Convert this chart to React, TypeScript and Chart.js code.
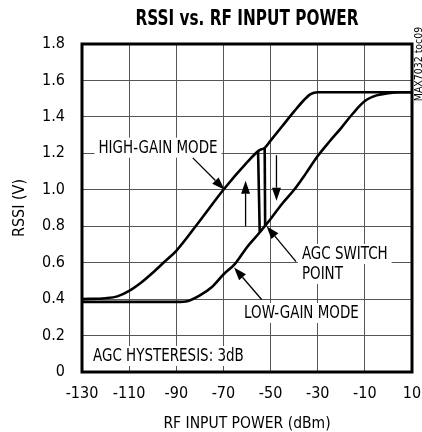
import React, { useEffect, useRef } from "react";
import { Chart, registerables } from "chart.js";

Chart.register(...registerables);

const FONT = "'Liberation Sans Narrow', 'DejaVu Sans Condensed', 'Arial Narrow', sans-serif";

const titleText = "RSSI vs. RF INPUT POWER";
const xAxisTitle = "RF INPUT POWER (dBm)";
const yAxisTitle = "RSSI (V)";
const sideCode = "MAX7032 toc09";

const xTickLabels = ["-130", "-110", "-90", "-70", "-50", "-30", "-10", "10"];
const yTickLabels = ["0", "0.2", "0.4", "0.6", "0.8", "1.0", "1.2", "1.4", "1.6", "1.8"];

const highGainX = [-130, -120, -115, -110, -105, -100, -95, -90, -80, -70, -60, -55, -52.5, -50, -45, -40, -36, -33, -30, -20, -10, 0, 10];
const highGainY = [0.4, 0.405, 0.415, 0.445, 0.49, 0.545, 0.605, 0.665, 0.83, 1.0, 1.15, 1.215, 1.23, 1.27, 1.35, 1.43, 1.49, 1.525, 1.535, 1.535, 1.535, 1.535, 1.535];

const lowGainX = [-130, -110, -90, -85, -80, -75, -70, -65, -60, -55, -52.5, -50, -45, -40, -35, -30, -25, -20, -15, -10, -5, 0, 5, 10];
const lowGainY = [0.385, 0.385, 0.385, 0.39, 0.42, 0.465, 0.535, 0.595, 0.685, 0.76, 0.8, 0.84, 0.925, 1.0, 1.09, 1.185, 1.265, 1.34, 1.42, 1.487, 1.518, 1.53, 1.535, 1.535];

const switchUpX = [-54.6, -55.3];
const switchUpY = [0.77, 1.21];
const switchDownX = [-52.5, -52.3];
const switchDownY = [1.23, 0.8];

const labelTexts = ["HIGH-GAIN MODE", "AGC SWITCH", "POINT", "LOW-GAIN MODE", "AGC HYSTERESIS: 3dB"];
const labelX = [-97.75, -36.7, -36.7, -36.9, -125.3];
const labelY = [1.231, 0.648, 0.538, 0.324, 0.088];
const labelAlign = ["center", "left", "left", "center", "left"];

const arrowFromX = [-83, -39.2, -53.8, -60.6, -47.5];
const arrowFromY = [1.175, 0.606, 0.398, 0.8, 1.19];
const arrowToX = [-69.5, -51.7, -65.5, -60.6, -47.5];
const arrowToY = [1.0, 0.8, 0.574, 1.05, 0.94];

const pts = (xs: number[], ys: number[]) => xs.map((x, i) => ({ x, y: ys[i] }));

function drawArrow(ctx: CanvasRenderingContext2D, x1: number, y1: number, x2: number, y2: number) {
  const ang = Math.atan2(y2 - y1, x2 - x1);
  const hl = 13;
  const hw = 4.5;
  const bx = x2 - hl * Math.cos(ang);
  const by = y2 - hl * Math.sin(ang);
  ctx.beginPath();
  ctx.moveTo(x1, y1);
  ctx.lineTo(bx, by);
  ctx.lineWidth = 1.3;
  ctx.strokeStyle = "#000";
  ctx.stroke();
  ctx.beginPath();
  ctx.moveTo(x2, y2);
  ctx.lineTo(bx + hw * Math.sin(ang), by - hw * Math.cos(ang));
  ctx.lineTo(bx - hw * Math.sin(ang), by + hw * Math.cos(ang));
  ctx.closePath();
  ctx.fillStyle = "#000";
  ctx.fill();
}

const LABEL_SX = 0.88;

const decorPlugin = {
  id: "decor",
  beforeDatasetsDraw(chart: any) {
    const ctx = chart.ctx as CanvasRenderingContext2D;
    const xs = chart.scales.x;
    const ys = chart.scales.y;
    ctx.save();
    ctx.font = `17px ${FONT}`;
    ctx.textBaseline = "middle";
    ctx.textAlign = "left";
    labelTexts.forEach((t, i) => {
      const px = xs.getPixelForValue(labelX[i]);
      const py = ys.getPixelForValue(labelY[i]);
      const w = ctx.measureText(t).width * LABEL_SX;
      const left = labelAlign[i] === "center" ? px - w / 2 : px;
      ctx.fillStyle = "#fff";
      ctx.fillRect(left - 4, py - 10, w + 8, 20);
      ctx.fillStyle = "#000";
      ctx.save();
      ctx.translate(left, py + 1);
      ctx.scale(LABEL_SX, 1);
      ctx.fillText(t, 0, 0);
      ctx.restore();
    });
    ctx.restore();
  },
  afterDatasetsDraw(chart: any) {
    const ctx = chart.ctx as CanvasRenderingContext2D;
    const xs = chart.scales.x;
    const ys = chart.scales.y;
    ctx.save();
    arrowFromX.forEach((_, i) => {
      drawArrow(
        ctx,
        xs.getPixelForValue(arrowFromX[i]),
        ys.getPixelForValue(arrowFromY[i]),
        xs.getPixelForValue(arrowToX[i]),
        ys.getPixelForValue(arrowToY[i])
      );
    });
    const a = chart.chartArea;
    ctx.lineWidth = 3;
    ctx.strokeStyle = "#000";
    ctx.strokeRect(a.left, a.top, a.right - a.left, a.bottom - a.top);
    ctx.restore();
  },
  afterDraw(chart: any) {
    const ctx = chart.ctx as CanvasRenderingContext2D;
    const a = chart.chartArea;
    ctx.save();
    ctx.fillStyle = "#000";
    ctx.font = `bold 21px ${FONT}`;
    ctx.textAlign = "center";
    ctx.textBaseline = "alphabetic";
    ctx.save();
    ctx.translate((a.left + a.right) / 2, 25);
    ctx.scale(0.81, 1);
    ctx.fillText(titleText, 0, 0);
    ctx.restore();
    ctx.font = `11px ${FONT}`;
    ctx.translate(419, a.top + 20);
    ctx.rotate(-Math.PI / 2);
    ctx.scale(0.95, 1);
    ctx.textAlign = "center";
    ctx.textBaseline = "middle";
    ctx.fillText(sideCode, 0, 0);
    ctx.restore();
  },
};

export default function App() {
  const ref = useRef<HTMLCanvasElement>(null);
  useEffect(() => {
    if (!ref.current) return;
    const lineDs = (data: any[], mono: boolean) => ({
      data,
      borderColor: "#000",
      backgroundColor: "#000",
      borderWidth: 2.6,
      pointRadius: 0,
      showLine: true,
      fill: false,
      cubicInterpolationMode: mono ? "monotone" : "default",
      tension: 0,
    });
    const chart = new Chart(ref.current, {
      type: "line",
      data: {
        datasets: [
          lineDs(pts(highGainX, highGainY), true),
          lineDs(pts(lowGainX, lowGainY), true),
          lineDs(pts(switchUpX, switchUpY), false),
          lineDs(pts(switchDownX, switchDownY), false),
        ] as any,
      },
      options: {
        animation: false,
        responsive: false,
        events: [],
        layout: { padding: { top: 44, right: 10, left: 0, bottom: 0 } },
        plugins: { legend: { display: false }, tooltip: { enabled: false }, title: { display: false } },
        scales: {
          x: {
            type: "linear",
            min: -130,
            max: 10,
            afterFit: (s: any) => {
              s.height = 60;
              s.paddingLeft = 0;
              s.paddingRight = 0;
            },
            afterBuildTicks: (s: any) => {
              s.ticks = xTickLabels.map((t) => ({ value: Number(t) }));
            },
            ticks: {
              padding: 12,
              color: "#000",
              font: { family: FONT, size: 16 },
              maxRotation: 0,
              autoSkip: false,
              callback: (v: any, i: number) => xTickLabels[i],
            },
            grid: { color: "#555", lineWidth: 1, drawTicks: false },
            border: { display: false },
            title: {
              display: true,
              text: xAxisTitle,
              color: "#000",
              font: { family: FONT, size: 15.5 },
              padding: { top: 0, bottom: -1 },
            },
          },
          y: {
            type: "linear",
            min: 0,
            max: 1.8,
            afterFit: (s: any) => {
              s.width = 82;
              s.paddingTop = 0;
              s.paddingBottom = 0;
            },
            afterBuildTicks: (s: any) => {
              s.ticks = yTickLabels.map((t) => ({ value: Number(t) }));
            },
            ticks: {
              padding: 17,
              color: "#000",
              font: { family: FONT, size: 16 },
              autoSkip: false,
              callback: (v: any, i: number) => yTickLabels[i],
            },
            grid: { color: "#555", lineWidth: 1, drawTicks: false },
            border: { display: false },
            title: {
              display: true,
              text: yAxisTitle,
              color: "#000",
              font: { family: FONT, size: 16 },
              padding: { top: 10, bottom: 0 },
            },
          },
        },
      },
      plugins: [decorPlugin],
    } as any);
    return () => chart.destroy();
  }, []);
  return (
    <canvas
      ref={ref}
      width={422}
      height={432}
      style={{ position: "fixed", left: 0, top: 0, width: 422, height: 432, background: "#fff" }}
    />
  );
}
